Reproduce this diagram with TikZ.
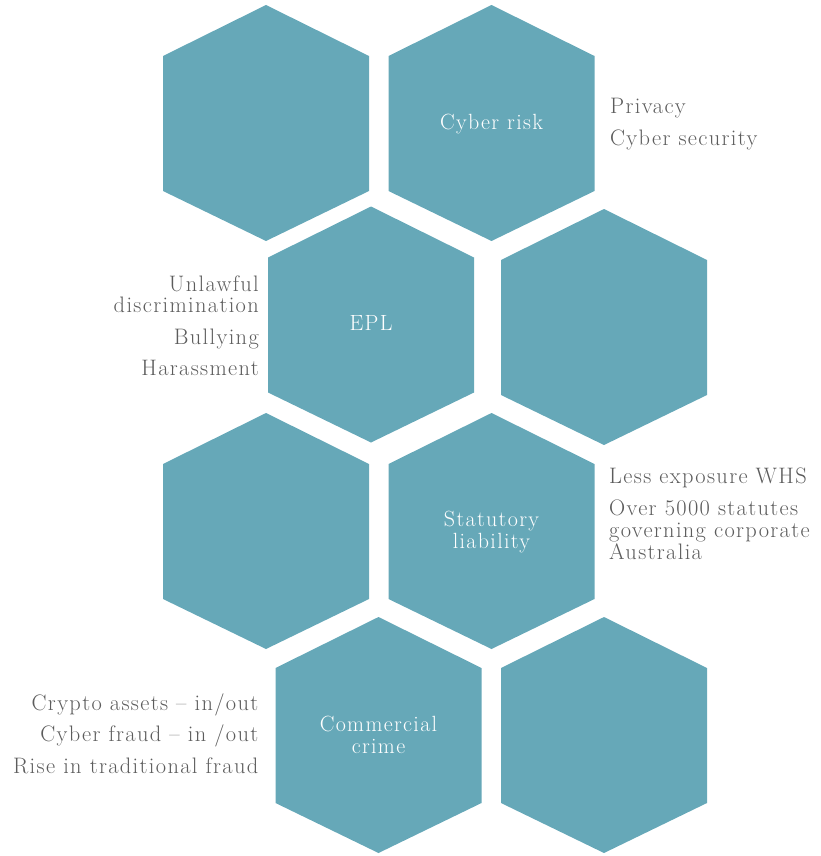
\documentclass[tikz,border=0pt]{standalone}
\usepackage{amsmath,amssymb}
\usepackage{fontspec}
\setmainfont{Latin Modern Roman}[LetterSpace=6]

\definecolor{hexblue}{HTML}{66A8B8}
\definecolor{notegray}{HTML}{5C5C5C}

% one flat-sided hexagon, given the x of its centre and the y of its top corner
\newcommand{\riskhex}[2]{%
  \fill[hexblue] (#1,#2) -- ++(103,51) -- ++(0,135) -- ++(-103,50) -- ++(-103,-50) -- ++(0,-135) -- cycle;}

\tikzset{
  hexlabel/.style={anchor=base,align=center,text=white,inner sep=0pt,
    font=\fontsize{22}{22}\selectfont},
  noteleft/.style={anchor=base east,align=right,text=notegray,inner sep=0pt,
    font=\fontsize{22.4}{21.7}\selectfont},
  noteright/.style={anchor=base west,align=left,text=notegray,inner sep=0pt,
    font=\fontsize{22.4}{21.7}\selectfont}
}

\begin{document}
\begin{tikzpicture}[x=1pt,y=-1pt]
        \useasboundingbox (0,0) rectangle (821,856);
        % the honeycomb
        \riskhex{266}{5}
        \riskhex{491.5}{5}
        \riskhex{371}{206.5}
        \riskhex{604}{209}
        \riskhex{266}{413}
        \riskhex{491.5}{413}
        \riskhex{378.5}{617}
        \riskhex{604}{617}
        % names in the cells (base = last line)
        \node[hexlabel] (cyber) at (491.5,129) {Cyber risk};
        \node[hexlabel] (epl) at (371,330) {EPL};
        \node[hexlabel] (statutory) at (491.5,548) {Statutory\\liability};
        \node[hexlabel] (crime) at (378.5,753.3) {Commercial\\crime};
        % notes beside the cells
        \node[noteright] (privacy) at (610,113.3) {Privacy};
        \node[noteright] (security) at (610,145) {Cyber security};
        \node[noteleft] (unlawful) at (259,312.7) {Unlawful\\discrimination};
        \node[noteleft] (bullying) at (259,344) {Bullying};
        \node[noteleft] (harass) at (259,375.7) {Harassment};
        \node[noteright] (whs) at (609,483.3) {Less exposure WHS};
        \node[noteright] (statutes) at (609,559) {Over 5000 statutes\\governing corporate\\Australia};
        \node[noteleft] (crypto) at (258.5,710) {Crypto assets -- in/out};
        \node[noteleft] (fraud) at (258.5,741.7) {Cyber fraud -- in /out};
        \node[noteleft] (rise) at (258.5,773.3) {Rise in traditional fraud};
\end{tikzpicture}
\end{document}
